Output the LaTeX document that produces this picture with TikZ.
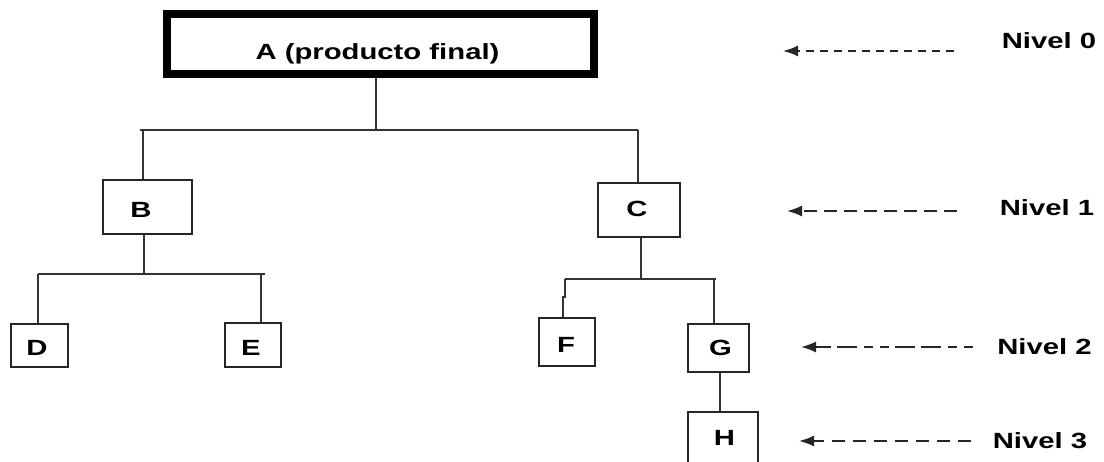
\documentclass[tikz,border=0pt]{standalone}
\usepackage{fontspec}
\setmainfont{Liberation Sans}[FakeStretch=1.33]
\usetikzlibrary{arrows.meta}
\begin{document}
\begin{tikzpicture}[x=1pt,y=-1pt,
  every node/.style={font=\fontsize{22}{24}\selectfont\bfseries, text=black},
  box/.style={draw=black!85, line width=2pt, rectangle, inner sep=0pt},
  mainbox/.style={draw=black, line width=8pt, rectangle, inner sep=0pt},
  lbl/.style={anchor=base, inner sep=0pt},
  link/.style={draw=black!80, line width=2.2pt},
  levelarrow/.style={draw=black!85, line width=1.8pt, -{Latex[length=15pt,width=11pt]}}]
\useasboundingbox (0,0) rectangle (1104,461);
\clip (0,0) rectangle (1104,461);
\fill[white] (0,0) rectangle (1104,461);

% boxes of the product tree
\node[mainbox, minimum width=427pt, minimum height=60pt] (A) at (380.5,44) {};
\node[box, minimum width=89pt, minimum height=54pt] (B) at (147.5,207) {};
\node[box, minimum width=82pt, minimum height=54pt] (C) at (639,210) {};
\node[box, minimum width=57pt, minimum height=43pt] (D) at (39.5,345.5) {};
\node[box, minimum width=56pt, minimum height=44pt] (E) at (253,345) {};
\node[box, minimum width=56pt, minimum height=48pt] (F) at (567,342) {};
\node[box, minimum width=61pt, minimum height=48pt] (G) at (718.5,348) {};
\node[box, minimum width=70pt, minimum height=58pt] (H) at (723,441) {};

% box captions
\node[lbl] (tA) at (377.5,59.4) {A (producto final)};
\node[lbl] (tB) at (141,217) {B};
\node[lbl] (tC) at (637,216) {C};
\node[lbl] (tD) at (37,355) {D};
\node[lbl] (tE) at (251,355) {E};
\node[lbl] (tF) at (566,352) {F};
\node[lbl] (tG) at (720.5,355) {G};
\node[lbl] (tH) at (724.5,445) {H};

% branching points
\coordinate (jA) at (376,130);
\coordinate (busAl) at (140,130);
\coordinate (busAr) at (638,130);
\coordinate (dB) at (143,130);
\coordinate (jB) at (144,274);
\coordinate (busBl) at (38,274);
\coordinate (busBr) at (265,274);
\coordinate (dE) at (261,274);
\coordinate (jC) at (641,279);
\coordinate (busCl) at (565,279);
\coordinate (busCr) at (716,279);
\coordinate (dG) at (714,279);
\coordinate (kF) at (565,297);
\coordinate (kF2) at (563,297);

% connectors
\path[link] (A.south -| jA) -- (jA);
\path[link] (busAl) -- (busAr);
\path[link] (dB) -- (B.north -| dB);
\path[link] (busAr) -- (C.north -| busAr);
\path[link] (B.south -| jB) -- (jB);
\path[link] (busBl) -- (busBr);
\path[link] (busBl) -- (D.north -| busBl);
\path[link] (dE) -- (E.north -| dE);
\path[link] (C.south -| jC) -- (jC);
\path[link] (busCl) -- (busCr);
\path[link] (busCl) -- (kF) -- (kF2) -- (F.north -| kF2);
\path[link] (dG) -- (G.north -| dG);
\path[link] (G.south -| 720,0) -- (H.north -| 720,0);

% level labels
\node[lbl] (N0) at (1049,48) {Nivel 0};
\node[lbl] (N1) at (1047,215) {Nivel 1};
\node[lbl] (N2) at (1044.5,354) {Nivel 2};
\node[lbl] (N3) at (1040,448) {Nivel 3};

% level arrows
\coordinate (h0) at (783,51);  \coordinate (t0) at (954,51);
\coordinate (h1) at (787,211); \coordinate (t1) at (957,211);
\coordinate (h2) at (801,347); \coordinate (t2) at (973,347);
\coordinate (h3) at (799,441); \coordinate (t3) at (971,441);
\draw[levelarrow, dash pattern=on 8pt off 6pt] (t0) -- (h0);
\draw[levelarrow, dash pattern=on 13pt off 7pt] (t1) -- (h1);
\draw[levelarrow, dash pattern=on 9pt off 7pt on 9pt off 7pt on 20pt off 6pt on 20pt off 6pt] (t2) -- (h2);
\draw[levelarrow, dash pattern=on 13pt off 8pt] (t3) -- (h3);
\end{tikzpicture}
\end{document}
